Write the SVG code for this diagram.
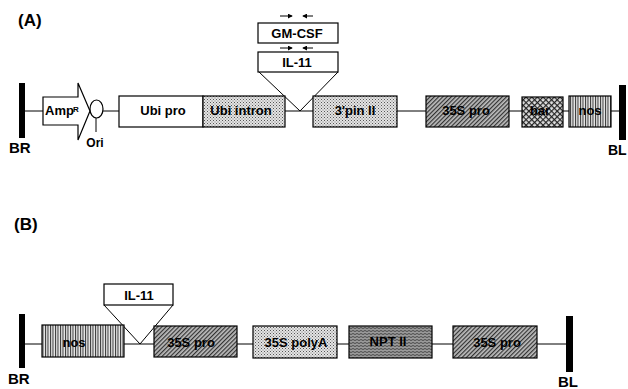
<svg xmlns="http://www.w3.org/2000/svg" width="628" height="389" viewBox="0 0 628 389">
<defs>
<pattern id="dots" width="3" height="3" patternUnits="userSpaceOnUse">
<rect width="3" height="3" fill="#e4e4e4"/><rect x="0" y="0" width="1" height="1" fill="#555"/><rect x="1.5" y="1.5" width="1" height="1" fill="#777"/>
</pattern>
<pattern id="hatch" width="3" height="3" patternUnits="userSpaceOnUse" patternTransform="rotate(45)">
<rect width="3" height="3" fill="#bdbdbd"/><rect width="1.2" height="3" fill="#333"/>
</pattern>
<pattern id="cross" width="4" height="4" patternUnits="userSpaceOnUse" patternTransform="rotate(45)">
<rect width="4" height="4" fill="#e0e0e0"/><rect width="1.2" height="4" fill="#222"/><rect width="4" height="1.2" fill="#222"/>
</pattern>
<pattern id="vlines" width="2.5" height="4" patternUnits="userSpaceOnUse">
<rect width="2.5" height="4" fill="#e8e8e8"/><rect width="1" height="4" fill="#333"/>
</pattern>
<pattern id="wavy" width="4" height="3" patternUnits="userSpaceOnUse">
<rect width="4" height="3" fill="#9a9a9a"/><path d="M0 1 Q1 0 2 1 T4 1" fill="none" stroke="#333" stroke-width="0.8"/>
</pattern>
<marker id="ar" viewBox="0 0 6 6" refX="5" refY="3" markerWidth="5" markerHeight="5" orient="auto"><path d="M0 0 L6 3 L0 6 Z" fill="#000"/></marker>
</defs>
<style>
.box{stroke:#000;stroke-width:1.2}
.t{font-family:"Liberation Sans",Arial,sans-serif;font-weight:bold;font-size:13px;text-anchor:middle;fill:#000}
.lab{font-family:"Liberation Sans",Arial,sans-serif;font-weight:bold;font-size:15px;fill:#000}
.ln{stroke:#000;stroke-width:1;fill:none}
.pr{stroke:#000;stroke-width:1;marker-end:url(#ar)}
</style>

<text class="lab" x="18" y="26" style="font-size:17px">(A)</text>
<text class="lab" x="14" y="230" style="font-size:17px">(B)</text>

<g id="connectors">
<line class="ln" x1="25" y1="111" x2="43" y2="111"/>
<line class="ln" x1="103" y1="111" x2="119" y2="111"/>
<line class="ln" x1="285" y1="111" x2="313" y2="111"/>
<line class="ln" x1="397" y1="111" x2="426" y2="111"/>
<line class="ln" x1="509" y1="111" x2="522" y2="111"/>
<line class="ln" x1="563" y1="111" x2="569" y2="111"/>
<line class="ln" x1="611" y1="111" x2="620" y2="111"/>
<line class="ln" x1="25" y1="344" x2="42" y2="344"/>
<line class="ln" x1="124" y1="344" x2="154" y2="344"/>
<line class="ln" x1="237" y1="344" x2="253" y2="344"/>
<line class="ln" x1="337" y1="344" x2="349" y2="344"/>
<line class="ln" x1="432" y1="344" x2="453" y2="344"/>
<line class="ln" x1="537" y1="344" x2="567" y2="344"/>
<polyline class="ln" points="259,72 300,111 338,72"/>
<polyline class="ln" points="104,305 140,344 173,305"/>
</g>

<g id="BR-A"><rect x="19" y="83" width="6" height="55" fill="#000"/><text class="lab" x="9" y="153">BR</text></g>
<g id="AmpR">
<path class="box" d="M43 97 H78 V83 L90 111 L78 140 V125 H43 Z" fill="#fff"/>
<text class="t" x="45" y="115" style="text-anchor:start">Amp</text>
<text class="t" x="73" y="112" style="text-anchor:start;font-size:8px">R</text>
</g>
<g id="Ori">
<ellipse class="box" cx="96.5" cy="109" rx="6.5" ry="9" fill="#fff"/>
<line class="ln" x1="96" y1="118" x2="96" y2="132"/>
<text class="t" x="95" y="147" style="font-size:12px">Ori</text>
</g>
<g id="UbiPro"><rect class="box" x="119" y="96" width="84" height="31" fill="#fff"/><text class="t" x="163" y="115">Ubi pro</text></g>
<g id="UbiIntron"><rect class="box" x="203" y="96" width="82" height="31" fill="url(#dots)"/><text class="t" x="241" y="115">Ubi intron</text></g>
<g id="GMCSF">
<rect class="box" x="258" y="23" width="80" height="20" fill="#fff"/><text class="t" x="297" y="38">GM-CSF</text>
<line class="pr" x1="280" y1="16" x2="292" y2="16"/><line class="pr" x1="313" y1="16" x2="303" y2="16"/>
</g>
<g id="IL11-A">
<rect class="box" x="258" y="52" width="80" height="20" fill="#fff"/><text class="t" x="297" y="67">IL-11</text>
<line class="pr" x1="280" y1="48" x2="292" y2="48"/><line class="pr" x1="313" y1="48" x2="303" y2="48"/>
</g>
<g id="pinII"><rect class="box" x="313" y="96" width="84" height="31" fill="url(#dots)"/><text class="t" x="355" y="115">3'pin II</text></g>
<g id="35Spro-A"><rect class="box" x="426" y="96" width="83" height="31" fill="url(#hatch)"/><text class="t" x="466" y="115">35S pro</text></g>
<g id="bar"><rect class="box" x="522" y="97" width="41" height="30" fill="url(#cross)"/><text class="t" x="540" y="115">bar</text></g>
<g id="nos-A"><rect class="box" x="569" y="96" width="42" height="31" fill="url(#vlines)"/><text class="t" x="590" y="115">nos</text></g>
<g id="BL-A"><rect x="619" y="85" width="7" height="55" fill="#000"/><text class="lab" x="608" y="155" style="font-size:14px">BL</text></g>

<g id="BR-B"><rect x="19" y="314" width="6" height="54" fill="#000"/><text class="lab" x="8" y="384">BR</text></g>
<g id="nos-B"><rect class="box" x="42" y="325" width="82" height="32" fill="url(#vlines)"/><text class="t" x="74" y="347">nos</text></g>
<g id="IL11-B"><rect class="box" x="104" y="284" width="69" height="21" fill="#fff"/><text class="t" x="139" y="300">IL-11</text></g>
<g id="35Spro-B1"><rect class="box" x="154" y="326" width="83" height="31" fill="url(#hatch)"/><text class="t" x="191" y="347">35S pro</text></g>
<g id="polyA"><rect class="box" x="253" y="326" width="84" height="32" fill="url(#dots)"/><text class="t" x="296" y="347">35S polyA</text></g>
<g id="NPTII"><rect class="box" x="349" y="326" width="83" height="32" fill="url(#wavy)"/><text class="t" x="388" y="346">NPT II</text></g>
<g id="35Spro-B2"><rect class="box" x="453" y="326" width="84" height="32" fill="url(#hatch)"/><text class="t" x="497" y="347">35S pro</text></g>
<g id="BL-B"><rect x="566" y="316" width="7" height="56" fill="#000"/><text class="lab" x="558" y="387">BL</text></g>
</svg>
